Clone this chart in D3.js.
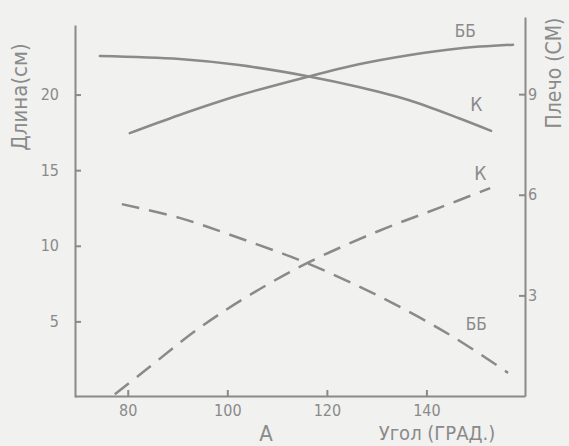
<!DOCTYPE html>
<html>
<head>
<meta charset="utf-8">
<script src="https://cdn.jsdelivr.net/npm/d3@7"></script>
<style>
  body { margin: 0; background: #f1f1ef; }
  svg { display: block; }
  text { font-family: "DejaVu Sans Condensed", "DejaVu Sans", sans-serif; fill: #8a8a8a; }
</style>
</head>
<body>
<div id="chart"></div>
<script>
// Angle (deg) vs length (left axis, solid) and lever arm (right axis, dashed)

// Tick values
let xTicks = [80, 100, 120, 140];
let leftTicks = [5, 10, 15, 20];
let rightTicks = [3, 6, 9];

// Solid curves: length (cm)
let solidK = [[74.4, 22.55], [90.4, 22.35], [102.4, 21.95], [116.4, 21.2], [126.4, 20.5], [136.4, 19.64], [146.4, 18.45], [153, 17.6]];
let solidBB = [[80.4, 17.45], [90.4, 18.65], [102.4, 19.95], [116.4, 21.2], [126.4, 22.0], [136.4, 22.6], [146.4, 23.05], [157.4, 23.3]];

// Dashed curves: lever arm (cm)
let dashK = [[77.4, 0.05], [83.4, 0.75], [94.4, 2.03], [104.4, 3.0], [116, 3.96], [130.4, 4.92], [142.4, 5.6], [152.8, 6.2]];
let dashBB = [[78.8, 5.72], [90.4, 5.31], [102.4, 4.71], [116, 3.96], [130.4, 2.98], [144.4, 1.85], [156.4, 0.69]];

let width = 569, height = 446;
let ink = "#8a8a8a";

let svg = d3.select("#chart")
    .append("svg")
    .attr("width", width)
    .attr("height", height);

// Scales
let x = d3.scaleLinear().domain([69.4, 159.8]).range([75, 525]);
let yL = d3.scaleLinear().domain([0, 24.6]).range([397, 25]);
let yR = d3.scaleLinear().domain([0, 11.3]).range([396, 17]);

// Bottom axis
let xaxis = svg.append("g")
    .attr("transform", "translate(0,396)")
    .call(d3.axisBottom(x).tickValues(xTicks).tickSize(-6).tickSizeOuter(0).tickPadding(9));

// Left axis
let yaxisL = svg.append("g")
    .attr("transform", "translate(75,0)")
    .call(d3.axisLeft(yL).tickValues(leftTicks).tickSize(-6).tickSizeOuter(0).tickPadding(16));

// Right axis
let yaxisR = svg.append("g")
    .attr("transform", "translate(525,0)")
    .call(d3.axisRight(yR).tickValues(rightTicks).tickSize(-6).tickSizeOuter(0).tickPadding(3));

[xaxis, yaxisL, yaxisR].forEach(function (g) {
    g.selectAll("path, line").attr("stroke", ink).attr("stroke-width", 2);
    g.selectAll("text").attr("fill", ink).style("font-size", "16px")
        .style("font-family", "\"DejaVu Sans Condensed\", \"DejaVu Sans\", sans-serif");
});

// Lines
let lineL = d3.line().x(d => x(d[0])).y(d => yL(d[1])).curve(d3.curveCatmullRom);
let lineR = d3.line().x(d => x(d[0])).y(d => yR(d[1])).curve(d3.curveCatmullRom);

[solidK, solidBB].forEach(function (s) {
    svg.append("path")
        .datum(s)
        .attr("fill", "none")
        .attr("stroke", ink)
        .attr("stroke-width", 2.5)
        .attr("stroke-linecap", "round")
        .attr("d", lineL);
});

[dashK, dashBB].forEach(function (s) {
    svg.append("path")
        .datum(s)
        .attr("fill", "none")
        .attr("stroke", ink)
        .attr("stroke-width", 2.5)
        .attr("stroke-dasharray", "18 10")
        .attr("d", lineR);
});

// Curve labels
function label(txt, px, py, size) {
    svg.append("text")
        .attr("x", px)
        .attr("y", py)
        .attr("text-anchor", "middle")
        .style("font-size", size + "px")
        .text(txt);
}
label("ББ", x(147.8), 37, 17);
label("К", x(150), yL(17.6) - 20, 19);
label("К", x(150.8), 180, 19);
label("ББ", x(150), 330, 17);

// Axis titles
svg.append("text")
    .attr("transform", "translate(27,97) rotate(-90)")
    .attr("text-anchor", "middle")
    .style("font-size", "22px")
    .text("Длина(см)");

svg.append("text")
    .attr("transform", "translate(561,73) rotate(-90)")
    .attr("text-anchor", "middle")
    .style("font-size", "21px")
    .text("Плечо (СМ)");

label("А", 266, 441, 22);
label("Угол (ГРАД.)", 437, 440, 20);
</script>
</body>
</html>
